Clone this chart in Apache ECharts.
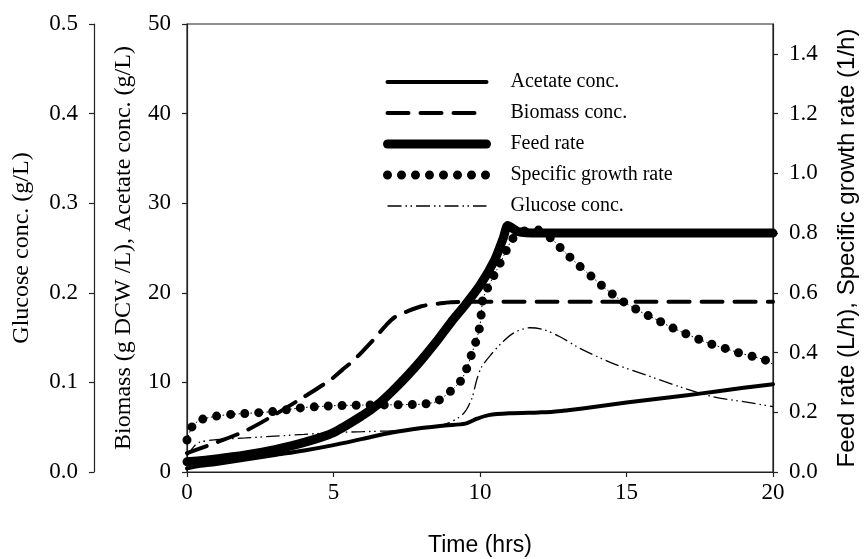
<!DOCTYPE html>
<html>
<head>
<meta charset="utf-8">
<script src="https://cdn.jsdelivr.net/npm/echarts@6/dist/echarts.min.js"></script>
<style>
html,body{margin:0;padding:0;background:#fff;}
#chart{width:865px;height:559px;}
</style>
</head>
<body>
<div id="chart"></div>
<script>
// ---- data ----
const seriesNames = ['Acetate conc.', 'Biomass conc.', 'Feed rate', 'Specific growth rate', 'Glucose conc.'];

const xTicks = [0, 5, 10, 15, 20];
const glucoseTicks = [0, 0.1, 0.2, 0.3, 0.4, 0.5];
const biomassTicks = [0, 10, 20, 30, 40, 50];
const rightTicks = [0, 0.2, 0.4, 0.6, 0.8, 1.0, 1.2, 1.4];

const acetateT = [0, 0.3, 1, 2, 3, 4, 5, 6, 7, 8, 8.8, 9.5, 9.9, 10.3, 11, 12, 12.5, 13, 14, 15, 16, 17, 18, 19, 20];
const acetateV = [0.4, 0.6, 0.9, 1.4, 1.9, 2.4, 3.0, 3.7, 4.4, 4.9, 5.2, 5.4, 5.95, 6.35, 6.55, 6.65, 6.72, 6.9, 7.3, 7.75, 8.15, 8.55, 8.95, 9.4, 9.8];

const biomassT = [0, 0.5, 1, 2, 3, 4, 4.9, 5.3, 5.7, 6.0, 6.4, 6.8, 7.1, 7.5, 8.0, 8.6, 9.0, 10, 12, 14, 16, 18, 20];
const biomassV = [2.1, 2.7, 3.3, 4.6, 6.4, 8.4, 10.3, 11.4, 12.5, 13.5, 14.9, 16.4, 17.3, 17.9, 18.5, 18.8, 18.95, 19.0, 19.0, 19.0, 19.0, 19.0, 19.0];

const feedT = [0, 1, 2, 3, 4, 5, 6, 6.5, 7, 7.5, 8, 8.5, 9, 9.5, 10, 10.5, 10.8, 10.95, 11.3, 12, 14, 16, 18, 20];
const feedV = [0.034, 0.044, 0.057, 0.075, 0.099, 0.132, 0.19, 0.225, 0.27, 0.32, 0.375, 0.435, 0.5, 0.56, 0.625, 0.71, 0.785, 0.825, 0.805, 0.80, 0.80, 0.80, 0.80, 0.80];

const growthT = [0, 0.2, 0.5, 1.0, 1.5, 2.0, 2.5, 3.0, 3.5, 4.0, 4.5, 5.0, 6.0, 7.0, 8.0, 8.5, 8.9, 9.35, 9.55, 9.72, 9.88, 10.0, 10.05, 10.1, 10.34, 10.57, 10.85, 11.08, 11.4, 12.0, 12.45, 12.9, 13.36, 13.81, 14.27, 14.72, 15.18, 15.63, 16.09, 16.54, 17.0, 17.45, 17.9, 18.36, 18.8, 19.27, 19.73, 20];
const growthV = [0.107, 0.157, 0.176, 0.187, 0.193, 0.196, 0.199, 0.203, 0.21, 0.216, 0.219, 0.222, 0.224, 0.225, 0.227, 0.235, 0.262, 0.306, 0.347, 0.396, 0.443, 0.49, 0.537, 0.58, 0.632, 0.676, 0.732, 0.777, 0.805, 0.81, 0.78, 0.735, 0.693, 0.654, 0.615, 0.581, 0.553, 0.529, 0.507, 0.484, 0.464, 0.445, 0.428, 0.414, 0.40, 0.388, 0.375, 0.36];

const glucoseT = [0, 0.2, 0.4, 1, 2, 3, 4, 5, 6, 7, 8, 8.86, 9.43, 9.72, 9.89, 10.06, 10.4, 10.74, 11.14, 11.7, 12.16, 12.73, 13.41, 14.55, 15.69, 16.83, 17.96, 19.1, 20];
const glucoseV = [0.018, 0.027, 0.033, 0.036, 0.038, 0.040, 0.042, 0.044, 0.045, 0.046, 0.048, 0.054, 0.065, 0.082, 0.103, 0.1175, 0.132, 0.144, 0.155, 0.161, 0.159, 0.151, 0.138, 0.121, 0.108, 0.095, 0.084, 0.078, 0.073];

// ---- build chart ----
const zip = (t, v) => t.map((x, i) => [x, v[i]]);
const serif = 'Liberation Serif';
const sans = 'Liberation Sans';
const ink = '#000';
const axisCol = '#222';

const chart = echarts.init(document.getElementById('chart'), null, {renderer: 'canvas'});

const yBase = {
  type: 'value',
  splitLine: {show: false},
  axisLine: {show: true, onZero: false, lineStyle: {color: axisCol, width: 1.2}},
  axisTick: {show: true, inside: false, length: 5, lineStyle: {color: axisCol, width: 1.2}},
  nameLocation: 'middle',
  nameRotate: 90,
  nameMoveOverlap: false,
};

const lineSeries = (name, yAxisIndex, t, v, lineStyle, z, smooth) => ({
  name, type: 'line', yAxisIndex, symbol: 'none', showSymbol: false,
  smooth: smooth,
  data: zip(t, v), z: z, lineStyle: Object.assign({color: ink}, lineStyle)
});

const option = {
  animation: false,
  backgroundColor: '#fff',
  grid: {left: 187, right: 92, top: 24, bottom: 87, show: true, borderColor: axisCol, borderWidth: 1.2, containLabel: false, outerBoundsMode: 'none'},
  legend: {
    data: seriesNames,
    orient: 'vertical',
    left: 378,
    top: 67,
    itemWidth: 99,
    itemHeight: 14,
    itemGap: 11,
    textStyle: {fontFamily: serif, fontSize: 20, color: ink, padding: [0, 0, 0, 19], lineHeight: 20},
    itemStyle: {opacity: 0},
    lineStyle: {width: 'inherit', type: 'inherit', cap: 'inherit', opacity: 1},
    selectedMode: false
  },
  xAxis: {
    type: 'value', min: 0, max: 20, interval: 5,
    splitLine: {show: false},
    axisLine: {show: true, onZero: false, lineStyle: {color: axisCol, width: 1.2}},
    axisTick: {show: true, inside: false, length: 5, lineStyle: {color: axisCol, width: 1.2}},
    axisLabel: {fontFamily: serif, fontSize: 23, color: ink, margin: 9, customValues: xTicks},
    name: 'Time (hrs)', nameLocation: 'middle', nameGap: 62,
    nameTextStyle: {fontFamily: sans, fontSize: 23, color: ink},
    nameMoveOverlap: false
  },
  yAxis: [
    Object.assign({}, yBase, {
      position: 'left', offset: 93, min: 0, max: 0.5, interval: 0.1,
      axisLabel: {fontFamily: serif, fontSize: 23, color: ink, margin: 16, customValues: glucoseTicks, formatter: v => v.toFixed(1)},
      name: 'Glucose conc. (g/L)', nameGap: 60,
      nameTextStyle: {fontFamily: serif, fontSize: 24, color: ink}
    }),
    Object.assign({}, yBase, {
      position: 'left', offset: 0, min: 0, max: 50, interval: 10,
      axisLabel: {fontFamily: serif, fontSize: 23, color: ink, margin: 16, customValues: biomassTicks},
      name: 'Biomass (g DCW /L), Acetate conc. (g/L)', nameGap: 51,
      nameTextStyle: {fontFamily: serif, fontSize: 24, color: ink}
    }),
    Object.assign({}, yBase, {
      position: 'right', offset: 0, min: 0, max: 1.5, interval: 0.1,
      axisLabel: {fontFamily: serif, fontSize: 23, color: ink, margin: 16, customValues: rightTicks, formatter: v => v.toFixed(1)},
      axisTick: {show: true, inside: false, length: 5, customValues: rightTicks, lineStyle: {color: axisCol, width: 1.2}},
      name: 'Feed rate (L/h), Specific growth rate (1/h)', nameGap: 62,
      nameTextStyle: {fontFamily: sans, fontSize: 24, color: ink}
    })
  ],
  series: [
    lineSeries('Specific growth rate', 2, growthT, growthV, {width: 9, type: [0, 14], cap: 'round', join: 'round'}, 3, 0.2),
    lineSeries('growth-link', 2, growthT, growthV, {width: 1, type: [1.5, 2.5]}, 3, 0.2),
    lineSeries('Acetate conc.', 1, acetateT, acetateV, {width: 4, type: 'solid', cap: 'round', join: 'round'}, 4, 0.3),
    lineSeries('Biomass conc.', 1, biomassT, biomassV, {width: 4, type: [21, 12], cap: 'round'}, 4, 0.3),
    lineSeries('Feed rate', 2, feedT, feedV, {width: 9, type: 'solid', cap: 'round', join: 'round'}, 4, 0.25),
    lineSeries('Glucose conc.', 0, glucoseT, glucoseV, {width: 1.3, type: [14, 4, 1.5, 3.5, 1.5, 4]}, 4, 0.3)
  ]
};
chart.setOption(option);
</script>
</body>
</html>
